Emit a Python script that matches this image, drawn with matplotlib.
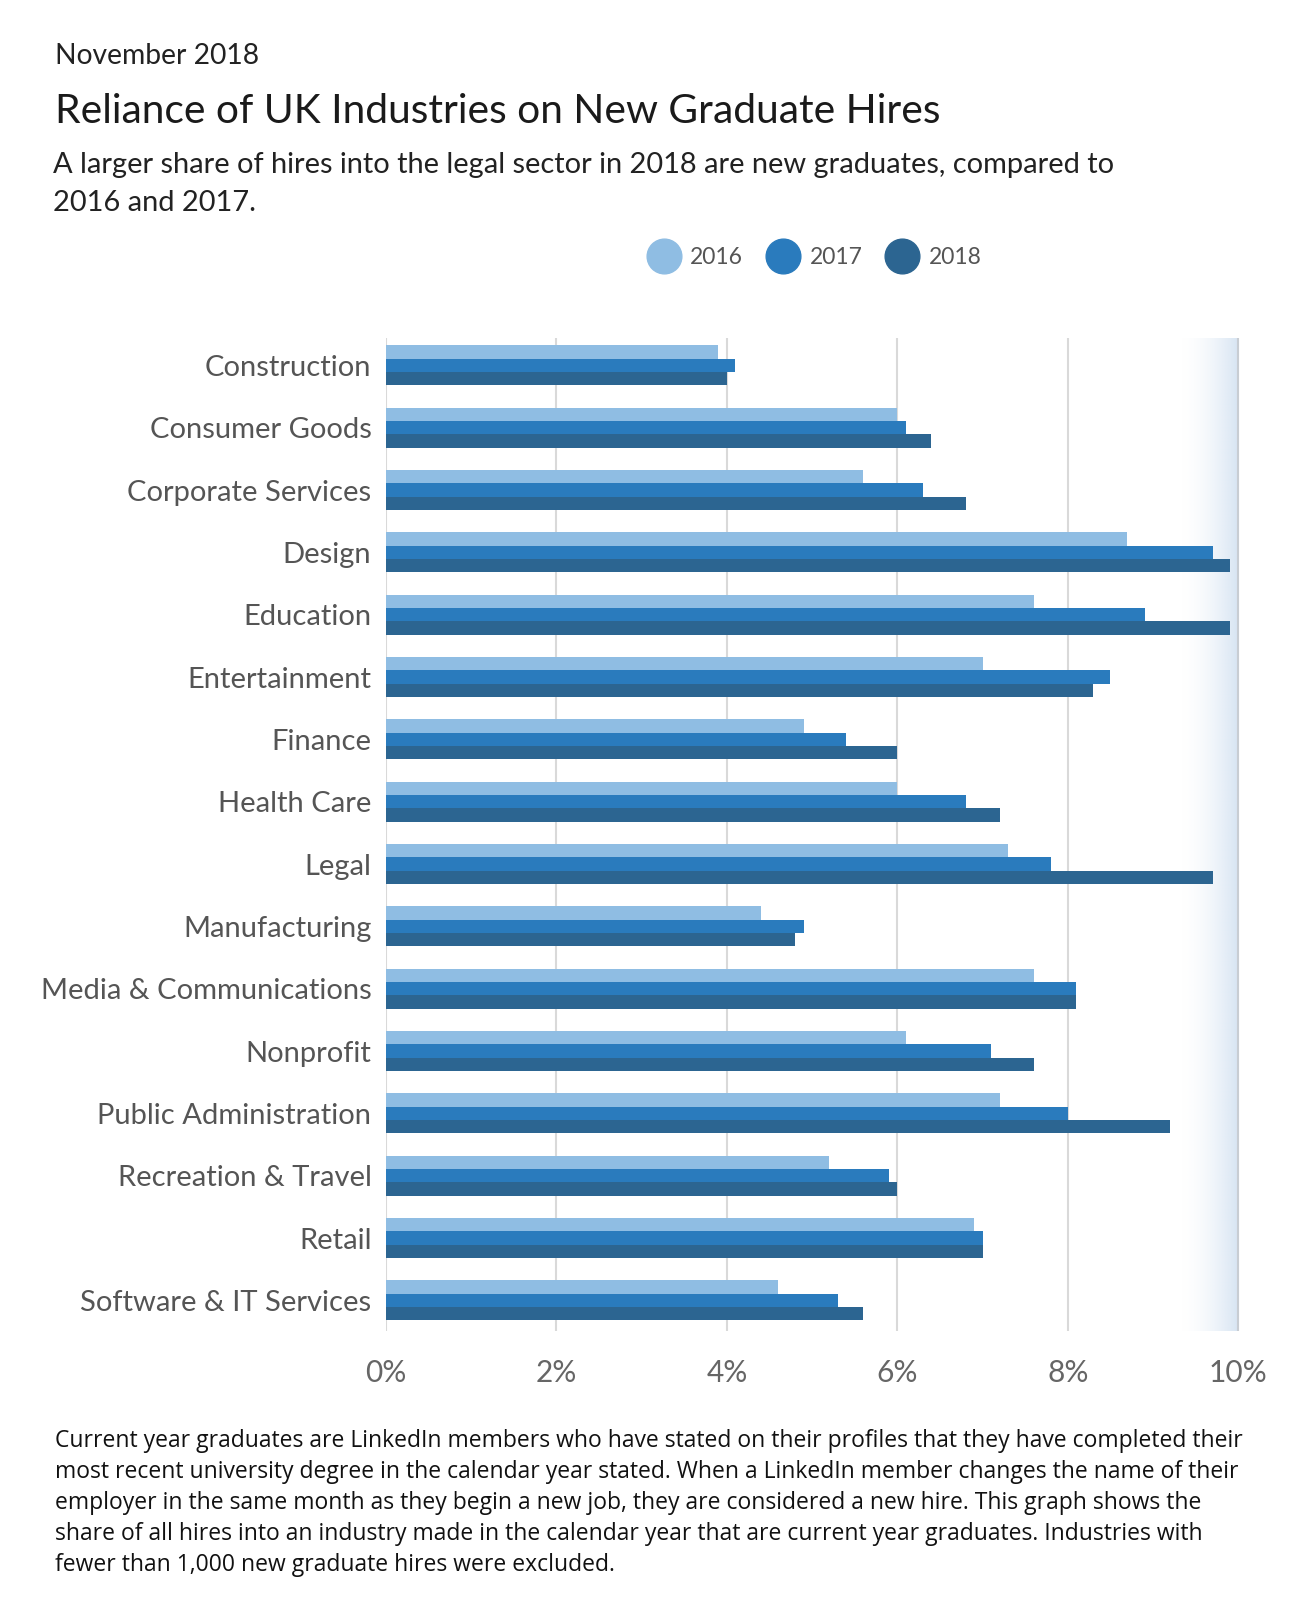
import matplotlib
matplotlib.use("Agg")
import matplotlib.pyplot as plt
import numpy as np
from matplotlib.lines import Line2D

categories = ["Construction", "Consumer Goods", "Corporate Services", "Design", "Education",
              "Entertainment", "Finance", "Health Care", "Legal", "Manufacturing",
              "Media & Communications", "Nonprofit", "Public Administration",
              "Recreation & Travel", "Retail", "Software & IT Services"]
y2016 = [3.9, 6.0, 5.6, 8.7, 7.6, 7.0, 4.9, 6.0, 7.3, 4.4, 7.6, 6.1, 7.2, 5.2, 6.9, 4.6]
y2017 = [4.1, 6.1, 6.3, 9.7, 8.9, 8.5, 5.4, 6.8, 7.8, 4.9, 8.1, 7.1, 8.0, 5.9, 7.0, 5.3]
y2018 = [4.0, 6.4, 6.8, 9.9, 9.9, 8.3, 6.0, 7.2, 9.7, 4.8, 8.1, 7.6, 9.2, 6.0, 7.0, 5.6]
years = ["2016", "2017", "2018"]
colors = ["#8fbde3", "#2a7bbd", "#2c6591"]
xticks = [0, 2, 4, 6, 8, 10]
xticklabels = ["0%", "2%", "4%", "6%", "8%", "10%"]

FONT = ["Lato", "DejaVu Sans"]
plt.rcParams['font.family'] = FONT

W, H = 1300, 1600
fig = plt.figure(figsize=(13, 16), dpi=100)
L, R, T, B = 386, 1240, 338, 1331
ax = fig.add_axes([L/W, 1-B/H, (R-L)/W, (B-T)/H])

n = len(categories)
pos = np.arange(n)
h = 0.214
for i, (vals, c) in enumerate(zip([y2016, y2017, y2018], colors)):
    ax.barh(pos + (i-1)*h, vals, height=h, color=c, zorder=3, linewidth=0)

ax.set_ylim(n - 0.51, -0.44)
ax.set_xlim(0, 10.02)

# right gradient band
grad = np.zeros((10, 100, 4))
base = np.array([0.80, 0.87, 0.94])
grad[..., :3] = base
alpha = np.linspace(0, 1, 100) ** 1.8 * 0.8
grad[..., 3] = alpha[None, :]
ax.imshow(grad, extent=[9.3, 10.0, n - 0.51, -0.44], aspect='auto', zorder=0.5, interpolation='bilinear')

for xt in xticks:
    ax.axvline(xt, color="#d9d9d9" if xt < 10 else "#c8cdd3", lw=1.5, zorder=1)

ax.set_xticks(xticks)
ax.set_xticklabels(xticklabels, fontsize=21.5, color="#666666")
ax.set_yticks(pos)
ax.set_yticklabels(categories, fontsize=21, color="#555555")
ax.tick_params(axis='both', length=0)
ax.tick_params(axis='x', pad=20)
ax.tick_params(axis='y', pad=10.5)
for s in ax.spines.values():
    s.set_visible(False)

fig.text(55/W, 1-56/H, "November 2018", fontsize=20.3, color="#222222", va="center", ha="left")
fig.text(55/W, 1-111.5/H, "Reliance of UK Industries on New Graduate Hires", fontsize=29.3,
         color="#1a1a1a", va="center", ha="left")
fig.text(53/W, 1-165/H, "A larger share of hires into the legal sector in 2018 are new graduates, compared to",
         fontsize=20.9, color="#222222", va="center", ha="left")
fig.text(53/W, 1-203/H, "2016 and 2017.", fontsize=20.9, color="#222222", va="center", ha="left")

handles = [Line2D([0], [0], marker='o', color='none', markerfacecolor=c, markeredgecolor=c,
                  markersize=25) for c in colors]
fig.legend(handles, years, loc='center', bbox_to_anchor=(814/W, 1-258/H), ncol=3,
           frameon=False, fontsize=16.5, labelcolor="#555555", handletextpad=0.4,
           columnspacing=1.0, handlelength=1.5)

foot = ("Current year graduates are LinkedIn members who have stated on their profiles that they have completed their\n"
        "most recent university degree in the calendar year stated. When a LinkedIn member changes the name of their\n"
        "employer in the same month as they begin a new job, they are considered a new hire. This graph shows the\n"
        "share of all hires into an industry made in the calendar year that are current year graduates. Industries with\n"
        "fewer than 1,000 new graduate hires were excluded.")
fig.text(55/W, 1-1429/H, foot, fontsize=16.5, color="#111111", va="top", ha="left",
         linespacing=1.39, family=["Open Sans", "DejaVu Sans"])

fig.savefig("out.png", dpi=100, facecolor="white")
